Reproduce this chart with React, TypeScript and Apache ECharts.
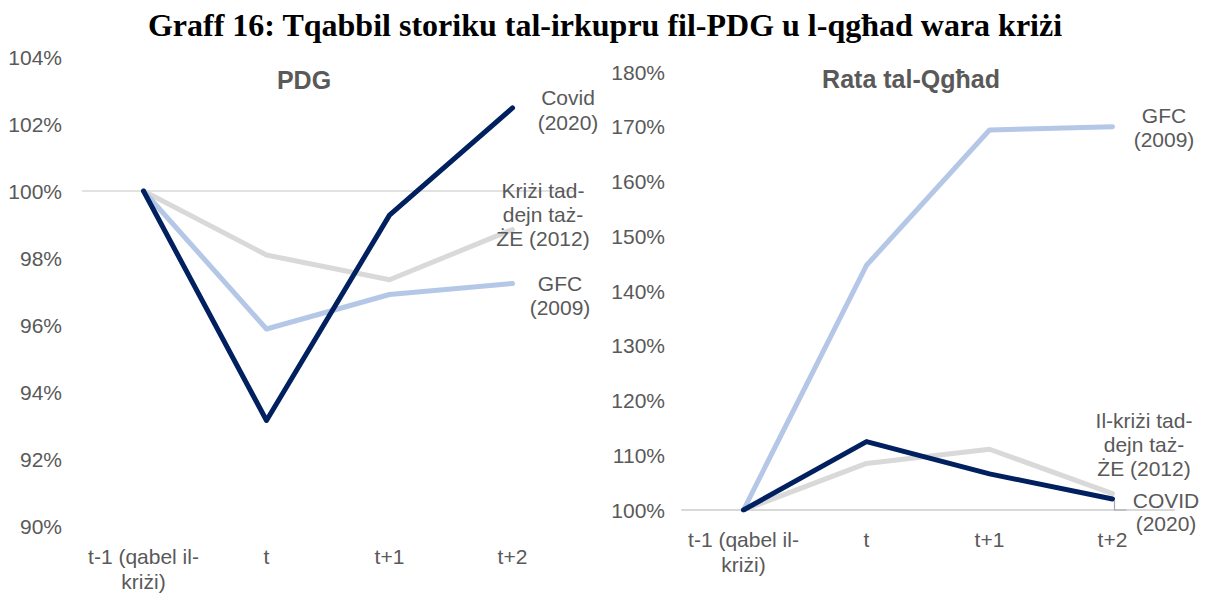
import React, { useEffect, useRef } from "react";
import * as echarts from "echarts";

const categories = ["t-1 (qabel il-\nkriżi)", "t", "t+1", "t+2"];

// PDG (GDP) index, t-1 = 100
const gdpCovid = [100, 93.15, 99.28, 102.48];
const gdpGfc = [100, 95.88, 96.91, 97.24];
const gdpEuro = [100, 98.09, 97.35, 98.85];

// Unemployment rate index, t-1 = 100
const unempGfc = [100, 144.7, 169.4, 170.0];
const unempCovid = [100, 112.5, 106.6, 102.0];
const unempEuro = [100, 108.5, 111.1, 103.0];

const NAVY = "#002060";
const LIGHT = "#B4C7E7";
const GRAY = "#D9D9D9";
const TXT = "#595959";
const FONT = '"Liberation Sans", Arial, sans-serif';
const FS = 21;

function txt(id: string, text: string, x: number, y: number, size: number, lh: number, weight = "normal", color = TXT, family = FONT) {
  return {
    id,
    type: "text",
    x,
    y,
    z: 100,
    style: {
      text,
      fill: color,
      fontSize: size,
      fontFamily: family,
      fontWeight: weight,
      lineHeight: lh,
      textAlign: "center",
      textVerticalAlign: "middle",
      align: "center",
      verticalAlign: "middle",
    },
  };
}

export default function App() {
  const ref = useRef<HTMLDivElement>(null);
  useEffect(() => {
    if (!ref.current) return;
    const chart = echarts.init(ref.current, undefined, { renderer: "svg" });
    const lineSeries = (name: string, data: number[], color: string, idx: number, z: number) => ({
      name,
      type: "line",
      data,
      xAxisIndex: idx,
      yAxisIndex: idx,
      symbol: "none",
      smooth: false,
      z,
      lineStyle: { color, width: 5, cap: "round", join: "round" },
    });
    const axisLabel = { color: TXT, fontSize: FS, fontFamily: FONT };
    chart.setOption({
      animation: false,
      backgroundColor: "#ffffff",
      grid: [
        { left: 82, top: 57, width: 492, height: 475 },
        { left: 682, top: 72, width: 492, height: 438 },
      ],
      xAxis: [0, 1].map((i) => ({
        type: "category",
        gridIndex: i,
        data: categories,
        boundaryGap: true,
        axisLine: { show: i === 1, lineStyle: { color: GRAY, width: 2 } },
        axisTick: { show: false },
        axisLabel: { ...axisLabel, margin: i === 0 ? 18 : 17, lineHeight: 25, interval: 0 },
      })),
      yAxis: [
        {
          type: "value",
          gridIndex: 0,
          min: 90,
          max: 104,
          interval: 2,
          axisLine: { show: false },
          axisTick: { show: false },
          splitLine: { show: false },
          axisLabel: { ...axisLabel, margin: 20, formatter: "{value}%" },
        },
        {
          type: "value",
          gridIndex: 1,
          min: 100,
          max: 180,
          interval: 10,
          axisLine: { show: false },
          axisTick: { show: false },
          splitLine: { show: false },
          axisLabel: { ...axisLabel, margin: 17, formatter: "{value}%" },
        },
      ],
      series: [
        {
          ...lineSeries("Kriżi tad-dejn taż-ŻE (2012)", gdpEuro, GRAY, 0, 2),
          markLine: {
            silent: true,
            symbol: "none",
            label: { show: false },
            lineStyle: { color: GRAY, width: 1.5, type: "solid" },
            data: [{ yAxis: 100 }],
            z: 1,
          },
        },
        lineSeries("GFC (2009)", gdpGfc, LIGHT, 0, 3),
        lineSeries("Covid (2020)", gdpCovid, NAVY, 0, 4),
        lineSeries("Il-kriżi tad-dejn taż-ŻE (2012)", unempEuro, GRAY, 1, 2),
        lineSeries("GFC (2009)", unempGfc, LIGHT, 1, 3),
        lineSeries("COVID (2020)", unempCovid, NAVY, 1, 4),
      ],
      graphic: [
        txt("title", "Graff 16: Tqabbil storiku tal-irkupru fil-PDG u l-qgħad wara kriżi", 605, 25, 32, 36, "bold", "#000000", '"Liberation Serif", "Times New Roman", serif'),
        txt("t1", "PDG", 304, 80, 25, 28, "bold"),
        txt("t2", "Rata tal-Qgħad", 911, 79, 25, 28, "bold"),
        txt("l1", "Covid\n(2020)", 568, 110, FS, 25),
        txt("l2", "Kriżi tad-\ndejn taż-\nŻE (2012)", 543, 214, FS, 24),
        txt("l3", "GFC\n(2009)", 560, 295, FS, 24),
        txt("l4", "GFC\n(2009)", 1164, 127, FS, 24),
        txt("l5", "Il-kriżi tad-\ndejn taż-\nŻE (2012)", 1144, 444, FS, 24),
        txt("l6", "COVID\n(2020)", 1166, 512, FS, 23),
      ],
    });
    // leader line for the COVID label in the right panel
    const end = chart.convertToPixel({ gridIndex: 1 } as any, [3, unempCovid[3]]) as number[];
    const base = chart.convertToPixel({ gridIndex: 1 } as any, [3, 100]) as number[];
    if (end && base) {
      chart.setOption({
        graphic: [
          {
            id: "leader",
            type: "polyline",
            z: 90,
            shape: { points: [[end[0] + 2, end[1] + 2], [end[0] + 2, base[1]], [end[0] + 14, base[1]]] },
            style: { stroke: "#A6A6A6", lineWidth: 1.2, fill: "none" },
          },
        ],
      });
    }
    return () => chart.dispose();
  }, []);
  return (
    <div
      ref={ref}
      style={{ position: "absolute", left: 0, top: 0, width: 1208, height: 594, background: "#fff" }}
    />
  );
}
